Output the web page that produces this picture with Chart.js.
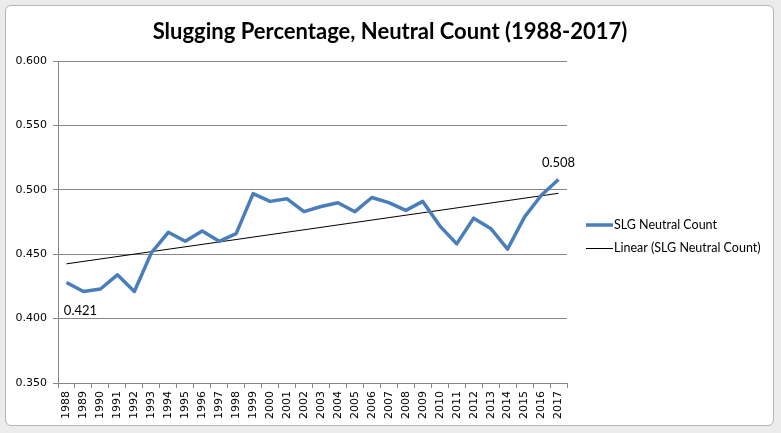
<!DOCTYPE html>
<html>
<head>
<meta charset="utf-8">
<script src="https://cdn.jsdelivr.net/npm/chart.js@4.4.1/dist/chart.umd.min.js"></script>
<style>
  html, body { margin: 0; padding: 0; }
  body {
    width: 781px; height: 433px; overflow: hidden; position: relative;
    background: #ececec;
  }
  .frame {
    position: absolute; left: 5px; top: 5px; width: 767px; height: 419px;
    background: #fff; border: 1px solid #b4b4b4; border-radius: 6px;
  }
  canvas { position: absolute; left: 0; top: 0; }
</style>
</head>
<body>
<div class="frame"></div>
<canvas id="chart" width="781" height="433"></canvas>
<script>
const years = ['1988','1989','1990','1991','1992','1993','1994','1995','1996','1997',
               '1998','1999','2000','2001','2002','2003','2004','2005','2006','2007',
               '2008','2009','2010','2011','2012','2013','2014','2015','2016','2017']
const slg = [0.428, 0.421, 0.423, 0.434, 0.421, 0.451, 0.467, 0.460, 0.468, 0.460,
             0.466, 0.497, 0.491, 0.493, 0.483, 0.487, 0.490, 0.483, 0.494, 0.490,
             0.484, 0.491, 0.472, 0.458, 0.478, 0.470, 0.454, 0.479, 0.496, 0.508]
const yTicks = [0.350, 0.400, 0.450, 0.500, 0.550, 0.600]
const titleText = 'Slugging Percentage, Neutral Count (1988-2017)'
const seriesName = 'SLG Neutral Count'
const trendName = 'Linear (SLG Neutral Count)'

// least squares trendline, like Excel's linear trendline
function linearFit(values) {
    let n = values.length
    let sx = 0, sy = 0, sxy = 0, sxx = 0
    for (let i = 0; i < n; i++) {
        sx += i; sy += values[i]; sxy += i * values[i]; sxx += i * i
    }
    let b = (n * sxy - sx * sy) / (n * sxx - sx * sx)
    let a = (sy - b * sx) / n
    return [{ x: years[0], y: a }, { x: years[n - 1], y: a + b * (n - 1) }]
}

const blue = '#4a7ebb'
const gridColor = '#868686'

const extras = {
    id: 'extras',
    afterDraw(chart) {
        let ctx = chart.ctx
        let xs = chart.scales.x
        let ys = chart.scales.y
        ctx.save()

        // title
        ctx.fillStyle = '#000'
        ctx.font = 'bold 22px Lato'
        ctx.textAlign = 'center'
        ctx.textBaseline = 'middle'
        ctx.fillText(titleText, 390, 32)

        // data labels on the low and last points
        ctx.font = '13px Lato'
        ctx.fillStyle = '#000'
        ctx.fillText('0.421', xs.getPixelForValue(1) - 3, ys.getPixelForValue(slg[1]) + 19)
        let last = slg.length - 1
        ctx.fillText(slg[last].toFixed(3), xs.getPixelForValue(last), ys.getPixelForValue(slg[last]) - 17)

        // legend
        ctx.font = '12.5px Lato'
        ctx.textAlign = 'left'
        ctx.lineCap = 'butt'
        ctx.strokeStyle = blue
        ctx.lineWidth = 3.5
        ctx.beginPath(); ctx.moveTo(586, 225); ctx.lineTo(613, 225); ctx.stroke()
        ctx.strokeStyle = '#000'
        ctx.lineWidth = 1
        ctx.beginPath(); ctx.moveTo(586, 248.5); ctx.lineTo(613, 248.5); ctx.stroke()
        ctx.fillText(seriesName, 614, 225)
        ctx.fillText(trendName, 614, 248)
        ctx.restore()
    }
}

new Chart(document.getElementById('chart'), {
    type: 'line',
    data: {
        labels: years,
        datasets: [
            {
                label: seriesName,
                data: slg,
                borderColor: blue,
                borderWidth: 3.5,
                pointRadius: 0,
                tension: 0,
                borderJoinStyle: 'round'
            },
            {
                label: trendName,
                data: linearFit(slg),
                borderColor: '#000',
                borderWidth: 1,
                pointRadius: 0,
                tension: 0
            }
        ]
    },
    options: {
        responsive: false,
        animation: false,
        devicePixelRatio: 1,
        layout: { padding: { left: 0, right: 214, top: 61, bottom: 0 } },
        plugins: { legend: { display: false }, title: { display: false }, tooltip: { enabled: false } },
        scales: {
            x: {
                type: 'category',
                offset: true,
                grid: { offset: true, drawOnChartArea: false, drawTicks: true, tickLength: 5, color: gridColor },
                border: { color: gridColor },
                ticks: {
                    minRotation: 90, maxRotation: 90, autoSkip: false, padding: 3,
                    color: '#000', font: { family: 'DejaVu Sans', size: 11 }
                },
                afterFit(scale) { scale.height = 50 }
            },
            y: {
                min: 0.35, max: 0.6,
                afterBuildTicks(scale) { scale.ticks = yTicks.map(v => ({ value: v })) },
                grid: { color: gridColor, tickLength: 5 },
                border: { color: gridColor },
                ticks: {
                    padding: 6, color: '#000',
                    font: { family: 'DejaVu Sans', size: 11 },
                    callback: v => v.toFixed(3)
                },
                afterFit(scale) { scale.width = 58 }
            }
        }
    },
    plugins: [extras]
})
</script>
</body>
</html>
